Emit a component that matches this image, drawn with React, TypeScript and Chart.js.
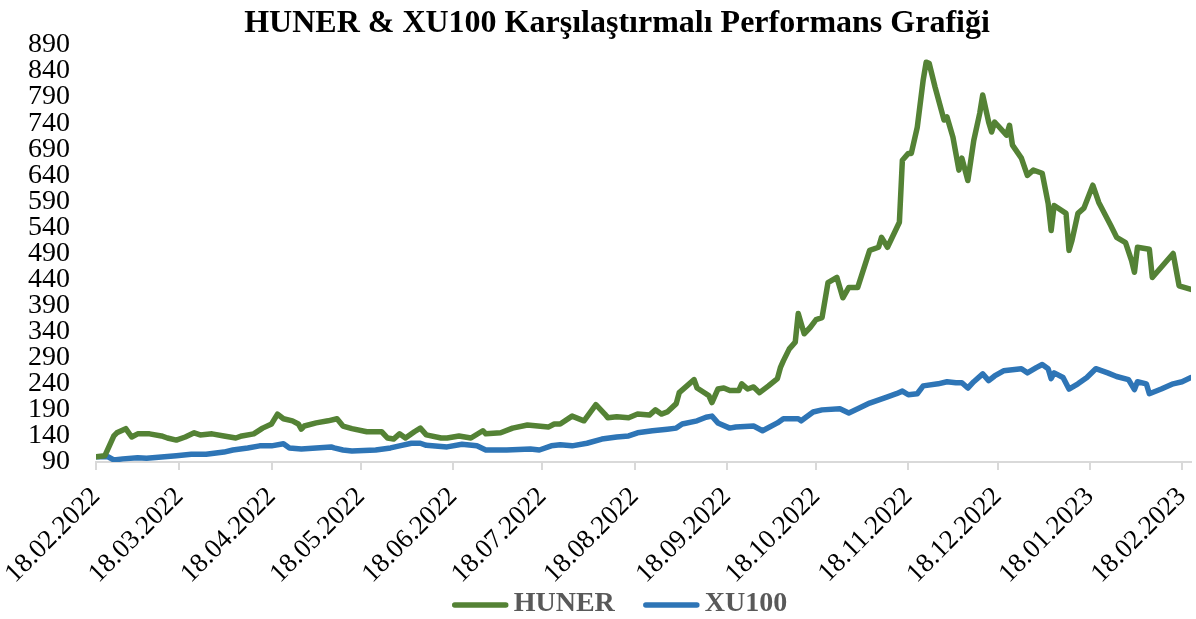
import React, { useEffect, useRef } from "react";
import { Chart, registerables } from "chart.js";

Chart.register(...registerables);

const TITLE = "HUNER & XU100 Karşılaştırmalı Performans Grafiği";
const SERIES_NAMES = ["HUNER", "XU100"];
const SERIES_COLORS = ["#548235", "#2E75B6"];

const xTickLabels = [
  "18.02.2022", "18.03.2022", "18.04.2022", "18.05.2022", "18.06.2022", "18.07.2022",
  "18.08.2022", "18.09.2022", "18.10.2022", "18.11.2022", "18.12.2022", "18.01.2023", "18.02.2023",
];
const yTickValues = [90, 140, 190, 240, 290, 340, 390, 440, 490, 540, 590, 640, 690, 740, 790, 840, 890];

// days since 18.02.2022
const hunerDays = [
  0, 3, 6, 7, 10, 12, 14, 18, 22, 24, 27, 30, 33, 35, 39, 43, 47, 49, 53, 56, 59, 61, 63, 66, 68, 69, 70, 74, 78, 81,
  83, 86, 91, 96, 98, 100, 102, 104, 107, 109, 111, 116, 118, 122, 126, 130, 131, 136, 140, 145, 152, 154, 156, 160,
  164, 168, 171, 172, 175, 179, 182, 186, 188, 190, 192, 195, 196, 201, 202, 205, 206, 207, 209, 211, 213, 216, 217,
  219, 221, 223, 226, 229, 230, 231, 233, 235, 236, 238, 240, 242, 244, 246, 249, 251, 253, 256, 260, 263, 264, 266,
  270, 271, 273, 274, 276, 278, 279, 280, 282, 285, 286, 288, 290, 291, 293, 295, 297, 298, 300, 301, 302, 303, 306,
  307, 308, 311, 313, 315, 318, 320, 321, 322, 326, 327, 328, 330, 332, 335, 337, 341, 343, 346, 348, 349, 350, 354,
  355, 362, 364, 368,
];
const hunerValues = [
  100, 102, 140, 146, 154, 138, 144, 144, 140, 136, 132, 138, 146, 142, 144, 140, 136, 140, 144, 155, 163, 182, 173, 169,
  163, 153, 159, 165, 169, 173, 159, 154, 148, 148, 136, 134, 144, 136, 148, 155, 142, 136, 136, 140, 136, 150, 144, 146,
  155, 161, 157, 163, 163, 178, 169, 200, 182, 175, 177, 175, 182, 180, 190, 182, 186, 202, 223, 248, 232, 221, 217, 204,
  230, 232, 227, 227, 240, 230, 234, 223, 236, 250, 271, 284, 307, 320, 375, 336, 348, 363, 367, 434, 444, 405, 425, 425,
  496, 502, 521, 502, 550, 669, 682, 682, 732, 823, 857, 855, 809, 746, 752, 713, 650, 673, 630, 707, 759, 794, 742, 723,
  742, 736, 717, 736, 698, 673, 640, 650, 644, 586, 534, 582, 567, 496, 515, 567, 577, 621, 588, 544, 521, 511, 477, 454,
  502, 498, 444, 490, 428, 421,
];

const xu100Days = [
  0, 4, 6, 9, 14, 17, 21, 27, 32, 37, 43, 46, 51, 55, 59, 63, 65, 69, 74, 79, 80, 83, 86, 94, 99, 102, 106, 109, 111,
  118, 123, 128, 131, 138, 146, 149, 153, 156, 160, 165, 170, 175, 179, 182, 187, 192, 195, 197, 202, 205, 207, 209,
  213, 215, 221, 224, 229, 231, 236, 237, 241, 244, 250, 253, 256, 260, 266, 269, 271, 273, 276, 278, 283, 286, 289,
  291, 293, 295, 298, 300, 302, 305, 308, 311, 313, 316, 318, 320, 321, 322, 325, 327, 330, 333, 336, 340, 343, 347,
  349, 350, 353, 354, 358, 362, 365, 368,
];
const xu100Values = [
  100, 100, 94, 96, 98, 97, 99, 102, 105, 105, 109, 113, 117, 121, 121, 125, 117, 115, 117, 119, 117, 113, 111, 113, 117,
  121, 126, 126, 122, 119, 124, 121, 113, 113, 115, 113, 121, 123, 121, 126, 134, 138, 140, 146, 150, 153, 155, 163, 169,
  176, 178, 165, 155, 157, 159, 150, 165, 173, 173, 169, 186, 190, 192, 184, 192, 203, 215, 221, 226, 219, 221, 236, 240,
  244, 242, 242, 232, 244, 259, 246, 255, 265, 267, 269, 261, 271, 277, 269, 250, 261, 252, 230, 240, 252, 269, 261, 254,
  248, 229, 244, 240, 221, 230, 240, 244, 252,
];

const X_MAX_DAY = 368;

function dayOffset(label: string): number {
  const [d, m, y] = label.split(".").map(Number);
  return Math.round((Date.UTC(y, m - 1, d) - Date.UTC(2022, 1, 18)) / 86400000);
}
const xTickDays = xTickLabels.map(dayOffset);

const SERIF = "'Liberation Serif', 'Times New Roman', serif";

const titleLegendPlugin = {
  id: "titleAndLegend",
  afterDraw(chart: any) {
    const ctx = chart.ctx as CanvasRenderingContext2D;
    ctx.save();
    // title
    ctx.font = `bold 32px ${SERIF}`;
    ctx.textAlign = "center";
    ctx.textBaseline = "alphabetic";
    ctx.fillStyle = "#000000";
    ctx.fillText(TITLE, 617, 32);

    // legend
    ctx.font = `bold 28px ${SERIF}`;
    ctx.textBaseline = "middle";
    ctx.textAlign = "left";
    const lineLen = 55;
    const gap = 6;
    const itemGap = 29;
    const items = chart.data.datasets.map((ds: any) => ({
      text: ds.label as string,
      color: ds.borderColor as string,
      w: ctx.measureText(ds.label).width,
    }));
    const total = items.reduce(
      (s: number, it: any, i: number) => s + lineLen + gap + it.w + (i ? itemGap : 0),
      0
    );
    let x = 620 - total / 2;
    const y = 604;
    items.forEach((it: any, i: number) => {
      if (i) x += itemGap;
      ctx.beginPath();
      ctx.strokeStyle = it.color;
      ctx.lineWidth = 5.5;
      ctx.lineCap = "round";
      ctx.moveTo(x + 2, y + 1);
      ctx.lineTo(x + lineLen - 2, y + 1);
      ctx.stroke();
      x += lineLen + gap;
      ctx.fillStyle = "#595959";
      ctx.fillText(it.text, x, y);
      x += it.w;
    });
    ctx.restore();
  },
};

export default function App() {
  const ref = useRef<HTMLCanvasElement | null>(null);

  useEffect(() => {
    if (!ref.current) return;
    const chart = new Chart(ref.current, {
      type: "line",
      data: {
        datasets: [
          {
            label: SERIES_NAMES[0],
            data: hunerDays.map((d, i) => ({ x: d, y: hunerValues[i] })),
            borderColor: SERIES_COLORS[0],
            backgroundColor: SERIES_COLORS[0],
            borderWidth: 5.5,
            pointRadius: 0,
            tension: 0,
            borderJoinStyle: "round",
            borderCapStyle: "round",
          },
          {
            label: SERIES_NAMES[1],
            data: xu100Days.map((d, i) => ({ x: d, y: xu100Values[i] })),
            borderColor: SERIES_COLORS[1],
            backgroundColor: SERIES_COLORS[1],
            borderWidth: 5.5,
            pointRadius: 0,
            tension: 0,
            borderJoinStyle: "round",
            borderCapStyle: "round",
          },
        ],
      },
      options: {
        responsive: false,
        animation: false,
        events: [],
        layout: { padding: { left: 0, right: 5, top: 45, bottom: 32 } },
        plugins: {
          legend: { display: false },
          tooltip: { enabled: false },
          title: { display: false },
        },
        scales: {
          x: {
            type: "linear",
            min: 0,
            max: X_MAX_DAY,
            afterBuildTicks: (scale: any) => {
              scale.ticks = xTickDays.map((v) => ({ value: v }));
            },
            afterFit: (scale: any) => {
              scale.height = 125;
              scale.paddingLeft = 0;
              scale.paddingRight = 0;
            },
            ticks: {
              autoSkip: false,
              minRotation: 45,
              maxRotation: 45,
              padding: 11,
              color: "#000000",
              font: { family: SERIF, size: 27 },
              callback: (value: any) => {
                const idx = xTickDays.indexOf(Number(value));
                return idx >= 0 ? xTickLabels[idx] : "";
              },
            },
            grid: {
              display: true,
              drawOnChartArea: false,
              drawTicks: true,
              tickLength: 8,
              color: "#D9D9D9",
              lineWidth: 2,
            },
            border: { display: true, color: "#D9D9D9", width: 2 },
          },
          y: {
            type: "linear",
            min: 90,
            max: 890,
            afterBuildTicks: (scale: any) => {
              scale.ticks = yTickValues.map((v) => ({ value: v }));
            },
            afterFit: (scale: any) => {
              scale.width = 96;
              scale.paddingTop = 0;
              scale.paddingBottom = 0;
            },
            ticks: {
              autoSkip: false,
              padding: 26,
              color: "#000000",
              font: { family: SERIF, size: 28 },
              callback: (value: any) => String(value),
            },
            grid: { display: false, drawTicks: false },
            border: { display: false },
          },
        },
      },
      plugins: [titleLegendPlugin],
    });
    return () => chart.destroy();
  }, []);

  return (
    <div style={{ position: "absolute", left: 0, top: 0, width: 1196, height: 619, background: "#ffffff" }}>
      <canvas ref={ref} width={1196} height={619} style={{ display: "block" }} />
    </div>
  );
}
